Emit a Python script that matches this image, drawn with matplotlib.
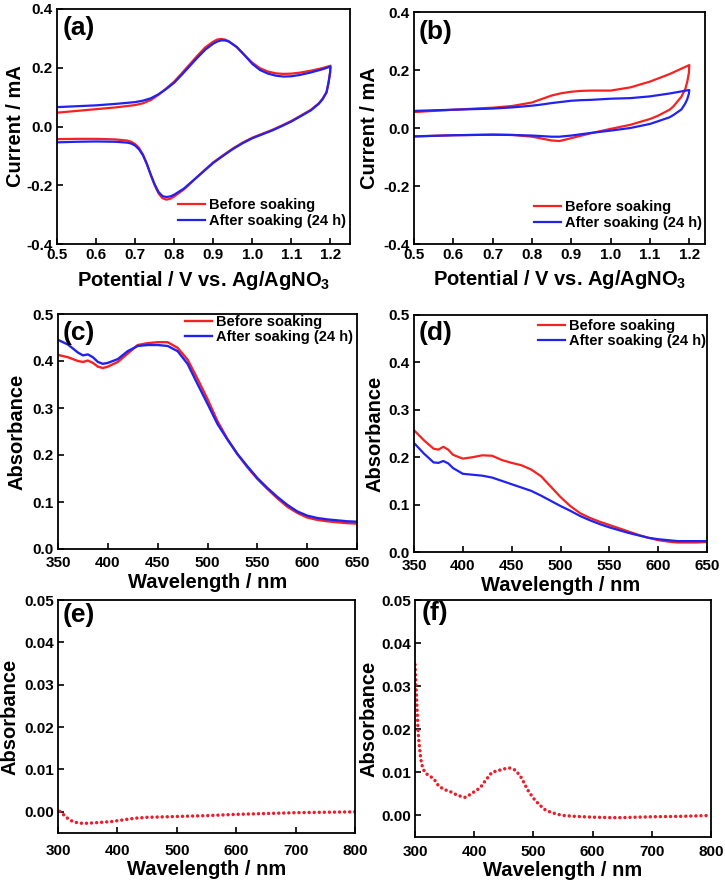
import matplotlib
matplotlib.use("Agg")
import matplotlib.pyplot as plt
from matplotlib.ticker import FormatStrFormatter, MultipleLocator

plt.rcParams['font.family'] = ['Liberation Sans', 'DejaVu Sans']
plt.rcParams['font.weight'] = 'bold'
plt.rcParams['axes.labelweight'] = 'bold'
plt.rcParams['mathtext.fontset'] = 'custom'
plt.rcParams['mathtext.rm'] = 'Liberation Sans:bold'
plt.rcParams['mathtext.bf'] = 'Liberation Sans:bold'
plt.rcParams['mathtext.it'] = 'Liberation Sans:bold'
plt.rcParams['axes.unicode_minus'] = False

RED = '#F52222'
BLUE = '#2222F0'
DOT_RED = '#EE1C2A'

labels = ['Before soaking', 'After soaking (24 h)']

# ---------- (a) CV, film ----------
a_v_fwd = [0.5, 0.55, 0.6, 0.65, 0.7, 0.72, 0.74, 0.76, 0.78, 0.8, 0.82, 0.84, 0.86, 0.88, 0.9, 0.91, 0.92, 0.93, 0.94, 0.96, 0.98, 1.0, 1.02, 1.04, 1.06, 1.08, 1.1, 1.12, 1.15, 1.18, 1.2]
a_red_fwd = [0.047, 0.053, 0.059, 0.065, 0.073, 0.079, 0.090, 0.108, 0.130, 0.153, 0.182, 0.212, 0.242, 0.270, 0.289, 0.296, 0.298, 0.296, 0.290, 0.270, 0.243, 0.217, 0.198, 0.187, 0.181, 0.179, 0.180, 0.183, 0.190, 0.199, 0.207]
a_blue_fwd = [0.066, 0.069, 0.072, 0.077, 0.083, 0.088, 0.096, 0.110, 0.128, 0.149, 0.177, 0.206, 0.235, 0.262, 0.282, 0.289, 0.293, 0.293, 0.289, 0.271, 0.243, 0.213, 0.192, 0.180, 0.173, 0.170, 0.171, 0.175, 0.184, 0.195, 0.204]
a_v_rev = [1.2, 1.199, 1.195, 1.19, 1.18, 1.17, 1.15, 1.12, 1.1, 1.075, 1.05, 1.025, 1.0, 0.975, 0.95, 0.925, 0.9, 0.875, 0.85, 0.825, 0.8, 0.79, 0.78, 0.77, 0.76, 0.75, 0.74, 0.73, 0.72, 0.71, 0.7, 0.69, 0.68, 0.65, 0.6, 0.55, 0.5]
a_red_rev = [0.207, 0.185, 0.150, 0.118, 0.095, 0.079, 0.057, 0.034, 0.019, 0.003, -0.012, -0.025, -0.038, -0.055, -0.075, -0.098, -0.122, -0.152, -0.183, -0.214, -0.238, -0.246, -0.249, -0.244, -0.228, -0.200, -0.165, -0.127, -0.095, -0.073, -0.060, -0.052, -0.048, -0.044, -0.042, -0.042, -0.043]
a_blue_rev = [0.204, 0.182, 0.148, 0.116, 0.093, 0.077, 0.055, 0.032, 0.017, 0.001, -0.014, -0.027, -0.040, -0.057, -0.077, -0.100, -0.124, -0.153, -0.182, -0.211, -0.232, -0.238, -0.240, -0.237, -0.223, -0.197, -0.164, -0.128, -0.098, -0.078, -0.065, -0.058, -0.055, -0.052, -0.051, -0.052, -0.054]

# ---------- (b) CV, bare ----------
b_v_fwd = [0.5, 0.6, 0.7, 0.75, 0.8, 0.825, 0.85, 0.875, 0.9, 0.925, 0.95, 1.0, 1.05, 1.1, 1.15, 1.2]
b_red_fwd = [0.055, 0.063, 0.070, 0.076, 0.088, 0.100, 0.112, 0.120, 0.125, 0.128, 0.129, 0.129, 0.140, 0.160, 0.186, 0.217]
b_blue_fwd = [0.059, 0.063, 0.067, 0.071, 0.077, 0.081, 0.086, 0.090, 0.094, 0.096, 0.097, 0.101, 0.103, 0.109, 0.119, 0.131]
b_v_rev = [1.2, 1.199, 1.195, 1.19, 1.18, 1.16, 1.15, 1.12, 1.1, 1.05, 1.0, 0.95, 0.9, 0.87, 0.85, 0.8, 0.75, 0.7, 0.6, 0.5]
b_red_rev = [0.217, 0.190, 0.160, 0.135, 0.108, 0.075, 0.063, 0.042, 0.031, 0.011, -0.003, -0.018, -0.035, -0.045, -0.043, -0.030, -0.024, -0.023, -0.025, -0.029]
b_blue_rev = [0.131, 0.118, 0.100, 0.085, 0.064, 0.045, 0.037, 0.023, 0.014, 0.000, -0.009, -0.017, -0.026, -0.030, -0.030, -0.026, -0.024, -0.023, -0.025, -0.029]

# ---------- (c) UV-vis ----------
c_wl = [350, 360, 370, 375, 380, 385, 390, 395, 400, 410, 420, 430, 440, 450, 460, 470, 480, 490, 500, 510, 520, 530, 540, 550, 560, 570, 580, 590, 600, 610, 620, 630, 640, 650]
c_red = [0.413, 0.408, 0.400, 0.398, 0.401, 0.396, 0.388, 0.385, 0.388, 0.398, 0.416, 0.434, 0.438, 0.440, 0.440, 0.428, 0.403, 0.362, 0.319, 0.272, 0.234, 0.202, 0.174, 0.149, 0.128, 0.108, 0.090, 0.077, 0.067, 0.062, 0.059, 0.057, 0.055, 0.054]
c_blue = [0.445, 0.435, 0.418, 0.412, 0.414, 0.408, 0.398, 0.394, 0.396, 0.404, 0.421, 0.432, 0.434, 0.434, 0.432, 0.421, 0.394, 0.351, 0.309, 0.266, 0.233, 0.202, 0.176, 0.151, 0.130, 0.111, 0.094, 0.080, 0.071, 0.066, 0.063, 0.061, 0.059, 0.058]

# ---------- (d) UV-vis ----------
d_wl = [350, 360, 370, 375, 380, 385, 390, 400, 410, 420, 430, 440, 450, 460, 470, 480, 490, 500, 510, 520, 530, 540, 550, 560, 570, 580, 590, 600, 610, 620, 630, 640, 650]
d_red = [0.257, 0.236, 0.218, 0.216, 0.222, 0.216, 0.205, 0.197, 0.200, 0.204, 0.203, 0.194, 0.188, 0.183, 0.174, 0.160, 0.138, 0.116, 0.097, 0.082, 0.072, 0.064, 0.057, 0.050, 0.043, 0.036, 0.030, 0.025, 0.022, 0.020, 0.020, 0.020, 0.021]
d_blue = [0.230, 0.208, 0.189, 0.188, 0.192, 0.187, 0.177, 0.165, 0.163, 0.161, 0.157, 0.150, 0.143, 0.136, 0.129, 0.119, 0.108, 0.097, 0.087, 0.076, 0.067, 0.059, 0.052, 0.046, 0.040, 0.035, 0.030, 0.027, 0.025, 0.023, 0.023, 0.023, 0.023]

# ---------- (e) ----------
e_wl = [303, 305, 308, 311, 315, 320, 325, 330, 340, 350, 360, 370, 380, 390, 400, 410, 420, 430, 440, 450, 475, 500, 550, 600, 650, 700, 750, 800]
e_abs = [0.0001, -0.0001, -0.0005, -0.0009, -0.0014, -0.0019, -0.0023, -0.0025, -0.0027, -0.0027, -0.0026, -0.0025, -0.0024, -0.0023, -0.0021, -0.0019, -0.0017, -0.0015, -0.0014, -0.0013, -0.0012, -0.0011, -0.0009, -0.0006, -0.0004, -0.0002, -0.0001, 0.0]

# ---------- (f) ----------
f_wl = [300, 301, 302, 303, 304, 305, 306, 308, 310, 313, 316, 320, 325, 330, 335, 340, 350, 360, 370, 380, 385, 390, 400, 410, 420, 430, 440, 450, 460, 470, 480, 490, 500, 510, 520, 530, 540, 550, 570, 600, 630, 650, 700, 750, 800]
f_abs = [0.035, 0.032, 0.029, 0.026, 0.023, 0.020, 0.018, 0.0152, 0.0129, 0.011, 0.0102, 0.0096, 0.0091, 0.0087, 0.0079, 0.0068, 0.0060, 0.0055, 0.0048, 0.0043, 0.0042, 0.0046, 0.0055, 0.0064, 0.0083, 0.0100, 0.0104, 0.0108, 0.0110, 0.0105, 0.0087, 0.0060, 0.0040, 0.0025, 0.0013, 0.0007, 0.0003, 0.0000, -0.0002, -0.0004, -0.0005, -0.0005, -0.0003, -0.0002, 0.0]

W, H = 725, 881
fig = plt.figure(figsize=(W / 100, H / 100), dpi=100)


def make_ax(l, r, t, b):
    return fig.add_axes([l / W, 1 - b / H, (r - l) / W, (b - t) / H])


def style(ax, xlabel, ylabel, tick_fs=11, lab_fs=14.5):
    for s in ax.spines.values():
        s.set_linewidth(1.3)
    ax.tick_params(direction='in', length=4, width=1.2, labelsize=tick_fs, pad=3,
                   top=False, right=False)
    ax.set_xlabel(xlabel, fontsize=lab_fs, fontweight='bold')
    ax.set_ylabel(ylabel, fontsize=lab_fs, fontweight='bold')
    for t in ax.get_xticklabels() + ax.get_yticklabels():
        t.set_fontweight('bold')


def panel(ax, txt, x, y):
    ax.text(x, y, txt, transform=ax.transAxes, fontsize=19, fontweight='bold',
            ha='left', va='center')


def leg(ax, x, y):
    ax.legend(loc='upper left', bbox_to_anchor=(x, y), frameon=False, borderpad=0,
              borderaxespad=0, handlelength=1.85, handletextpad=0.3,
              labelspacing=0.1, prop={'weight': 'bold', 'size': 10.5})


cv_xlabel = r'Potential / V vs. Ag/AgNO$_{3}$'

# (a)
ax = make_ax(57, 350, 9, 244)
ax.plot(a_v_fwd + a_v_rev, a_red_fwd + a_red_rev, color=RED, lw=1.6, label=labels[0])
ax.plot(a_v_fwd + a_v_rev, a_blue_fwd + a_blue_rev, color=BLUE, lw=1.6, label=labels[1])
ax.set_xlim(0.5, 1.25)
ax.set_ylim(-0.4, 0.4)
ax.xaxis.set_major_locator(MultipleLocator(0.1))
ax.yaxis.set_major_locator(MultipleLocator(0.2))
ax.xaxis.set_major_formatter(FormatStrFormatter('%.1f'))
ax.yaxis.set_major_formatter(FormatStrFormatter('%.1f'))
style(ax, cv_xlabel, 'Current / mA')
ax.xaxis.set_label_coords(0.5, -0.105)
ax.yaxis.set_label_coords(-0.108, 0.5)
panel(ax, '(a)', 0.018, 0.92)
leg(ax, 0.413, 0.195)

# (b)
ax = make_ax(414, 705, 12, 244)
ax.plot(b_v_fwd + b_v_rev, b_red_fwd + b_red_rev, color=RED, lw=1.6, label=labels[0])
ax.plot(b_v_fwd + b_v_rev, b_blue_fwd + b_blue_rev, color=BLUE, lw=1.6, label=labels[1])
ax.set_xlim(0.5, 1.24)
ax.set_ylim(-0.4, 0.4)
ax.xaxis.set_major_locator(MultipleLocator(0.1))
ax.yaxis.set_major_locator(MultipleLocator(0.2))
ax.xaxis.set_major_formatter(FormatStrFormatter('%.1f'))
ax.yaxis.set_major_formatter(FormatStrFormatter('%.1f'))
style(ax, cv_xlabel, 'Current / mA')
ax.xaxis.set_label_coords(0.5, -0.105)
ax.yaxis.set_label_coords(-0.12, 0.5)
panel(ax, '(b)', 0.015, 0.914)
leg(ax, 0.412, 0.189)

# (c)
ax = make_ax(58, 357, 314, 549)
ax.plot(c_wl, c_red, color=RED, lw=1.7, label=labels[0])
ax.plot(c_wl, c_blue, color=BLUE, lw=1.7, label=labels[1])
ax.set_xlim(350, 650)
ax.set_ylim(0, 0.5)
ax.xaxis.set_major_locator(MultipleLocator(50))
ax.yaxis.set_major_locator(MultipleLocator(0.1))
ax.yaxis.set_major_formatter(FormatStrFormatter('%.1f'))
style(ax, 'Wavelength / nm', 'Absorbance')
ax.tick_params(axis='x', pad=5)
ax.xaxis.set_label_coords(0.5, -0.1)
ax.yaxis.set_label_coords(-0.105, 0.5)
panel(ax, '(c)', 0.015, 0.92)
leg(ax, 0.425, 0.996)

# (d)
ax = make_ax(414, 707, 315, 552)
ax.plot(d_wl, d_red, color=RED, lw=1.6, label=labels[0])
ax.plot(d_wl, d_blue, color=BLUE, lw=1.6, label=labels[1])
ax.set_xlim(350, 650)
ax.set_ylim(0, 0.5)
ax.xaxis.set_major_locator(MultipleLocator(50))
ax.yaxis.set_major_locator(MultipleLocator(0.1))
ax.yaxis.set_major_formatter(FormatStrFormatter('%.1f'))
style(ax, 'Wavelength / nm', 'Absorbance')
ax.tick_params(axis='x', pad=5)
ax.xaxis.set_label_coords(0.5, -0.1)
ax.yaxis.set_label_coords(-0.1, 0.5)
panel(ax, '(d)', 0.015, 0.924)
leg(ax, 0.423, 0.983)

# (e)
ax = make_ax(58, 355, 600, 833)
ax.plot(e_wl, e_abs, color=DOT_RED, lw=2.5, linestyle=(0, (0.01, 1.45)),
        dash_capstyle='round')
ax.set_xlim(300, 800)
ax.set_ylim(-0.005, 0.05)
ax.xaxis.set_major_locator(MultipleLocator(100))
ax.yaxis.set_major_locator(MultipleLocator(0.01))
ax.yaxis.set_major_formatter(FormatStrFormatter('%.2f'))
style(ax, 'Wavelength / nm', 'Absorbance')
ax.tick_params(axis='x', pad=8)
ax.xaxis.set_label_coords(0.5, -0.115)
ax.yaxis.set_label_coords(-0.13, 0.5)
panel(ax, '(e)', 0.015, 0.936)

# (f)
ax = make_ax(415, 711, 600, 837)
ax.plot(f_wl, f_abs, color=DOT_RED, lw=2.5, linestyle=(0, (0.01, 1.45)),
        dash_capstyle='round')
ax.set_xlim(300, 800)
ax.set_ylim(-0.005, 0.05)
ax.xaxis.set_major_locator(MultipleLocator(100))
ax.yaxis.set_major_locator(MultipleLocator(0.01))
ax.yaxis.set_major_formatter(FormatStrFormatter('%.2f'))
style(ax, 'Wavelength / nm', 'Absorbance')
ax.tick_params(axis='x', pad=6)
ax.xaxis.set_label_coords(0.5, -0.1)
ax.yaxis.set_label_coords(-0.122, 0.5)
panel(ax, '(f)', 0.022, 0.945)

fig.savefig('out.png', dpi=100)
